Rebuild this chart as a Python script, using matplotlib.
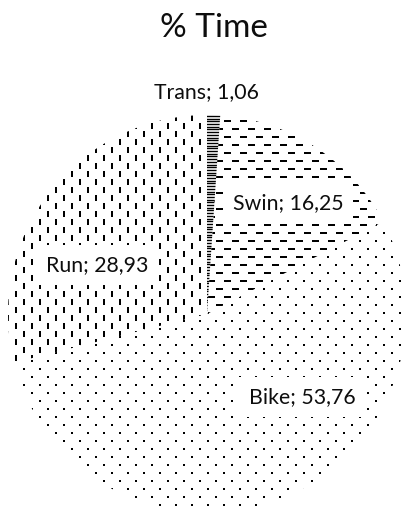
import numpy as np
import matplotlib.pyplot as plt
from matplotlib.collections import LineCollection

labels = ['Trans', 'Swin', 'Bike', 'Run']
values = [1.06, 16.25, 53.76, 28.93]
# label centres in image pixels (x, y from top)
label_pos = [(206, 92), (288, 203), (302, 397), (97, 265)]
title = '% Time'

W, H = 406, 512
PT = 72 / 100  # points per pixel

fig = plt.figure(figsize=(W / 100, H / 100), dpi=100)
ax = fig.add_axes([0, 0, 1, 1])

cx, cy, r = 207, H - 314, 199
wedges, _ = ax.pie(values, center=(cx, cy), radius=r, startangle=90,
                   counterclock=False, colors=['white'] * 4, frame=True,
                   wedgeprops=dict(linewidth=0))
ax.set_xlim(0, W)
ax.set_ylim(0, H)
ax.set_aspect('auto')
ax.axis('off')

x_lo, x_hi = cx - r - 16, cx + r + 16
y_lo, y_hi = cy - r - 16, cy + r + 16


def dashes_v():
    segs = []
    for k, x in enumerate(np.arange(x_lo, x_hi, 8)):
        for y in np.arange(y_lo + (k % 2) * 8, y_hi, 16):
            segs.append([(x, y), (x, y + 6)])
    return segs, 2


def dashes_h():
    segs = []
    for j, y in enumerate(np.arange(y_lo, y_hi, 8)):
        for x in np.arange(x_lo + (j % 2) * 8, x_hi, 16):
            segs.append([(x, y), (x + 7.5, y)])
    return segs, 2


def dots():
    segs = []
    for j, y in enumerate(np.arange(y_lo, y_hi, 8)):
        for x in np.arange(x_lo + (j % 2) * 8, x_hi, 16):
            segs.append([(x - 1, y), (x + 1, y)])
    return segs, 2


def lines_h():
    segs = [[(x_lo, y), (x_hi, y)] for y in np.arange(y_lo, y_hi, 2.7)]
    return segs, 1.4


patterns = [lines_h, dashes_h, dots, dashes_v]

for w, pat in zip(wedges, patterns):
    segs, lw = pat()
    lc = LineCollection(segs, colors='black', linewidths=lw * PT,
                        capstyle='butt')
    ax.add_collection(lc)
    lc.set_clip_path(w)

font = 'Lato'
for lab, v, (x, y) in zip(labels, values, label_pos):
    txt = f'{lab}; {v:.2f}'.replace('.', ',')
    ax.text(x, H - y, txt, ha='center', va='center', fontsize=15.3,
            family=font, color='#0d0d0d',
            bbox=dict(boxstyle='square,pad=0.45', fc='white', ec='none'))

ax.text(214, H - 28, title, ha='center', va='center', fontsize=24,
        family=font, color='#0d0d0d')

fig.savefig('out.png', dpi=100)
